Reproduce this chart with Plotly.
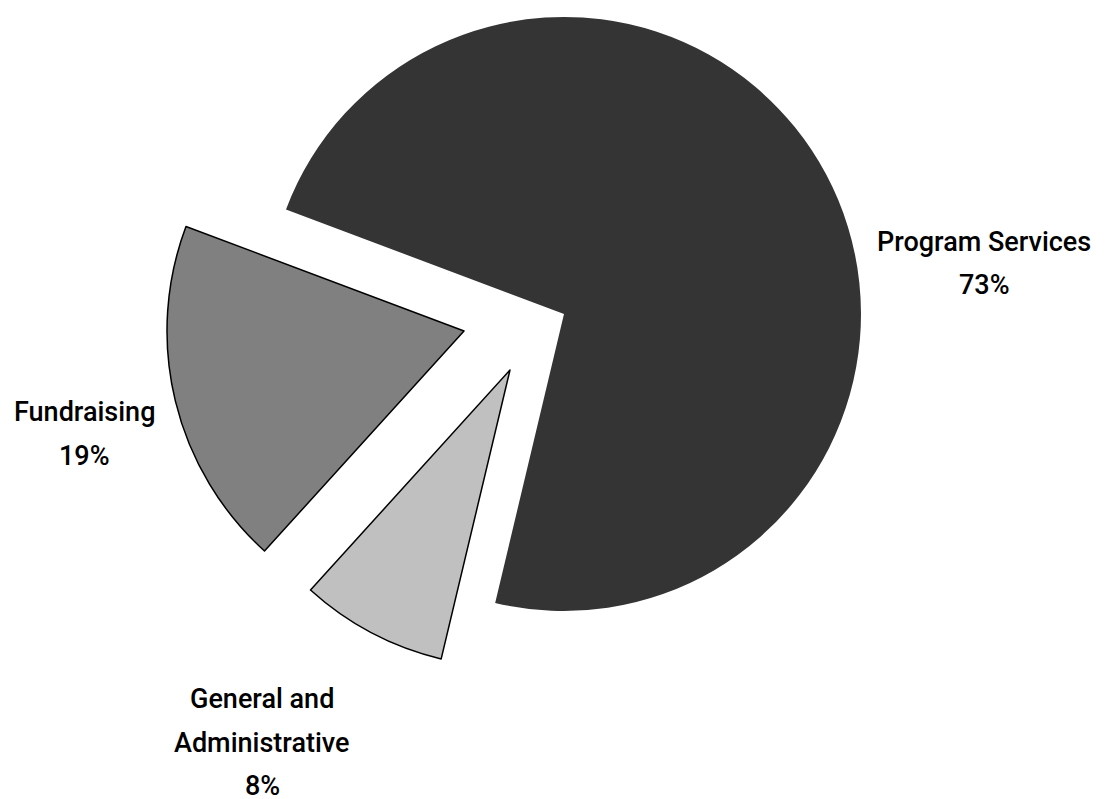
import plotly.graph_objects as go

# ---- data (clockwise order from the top-left edge) ----
labels = ["Program Services", "General and Administrative", "Fundraising"]
label_lines = [["Program Services"], ["General and", "Administrative"], ["Fundraising"]]
values = [73, 8, 19]

# ---- styles / layout ----
colors = ["#343434", "#c0c0c0", "#808080"]
outline = [0, 1.5, 1.5]
W, H = 1102, 791
PAGE = 8                      # page body margin in px
R = 297                       # pie radius in px
rotation = -69.4              # start of first slice relative to 12 o'clock
# apex (centre) of each exploded slice, screen px from top-left
centres = [(564, 314), (510, 370), (464, 331)]
# label anchor (centre of first line), screen px from top-left
label_pos = [(984, 242), (262, 699), (84, 412)]
line_gap = 43.5

fig = go.Figure()
total = sum(values)
for k, (cx, cy) in enumerate(centres):
    cx, cy = cx - PAGE, cy - PAGE
    cols = [colors[i] if i == k else "rgba(0,0,0,0)" for i in range(len(values))]
    lw = [outline[i] if i == k else 0 for i in range(len(values))]
    fig.add_trace(go.Pie(
        labels=labels, values=values, sort=False, direction="clockwise",
        rotation=rotation, textinfo="none", hoverinfo="label+percent",
        marker=dict(colors=cols, line=dict(color="black", width=lw)),
        domain=dict(x=[(cx - R) / W, (cx + R) / W],
                    y=[1 - (cy + R) / H, 1 - (cy - R) / H]),
        showlegend=False,
    ))

annotations = []
for i, lines in enumerate(label_lines):
    pct = f"{round(100 * values[i] / total)}%"
    x0, y0 = label_pos[i]
    x0, y0 = x0 - PAGE, y0 - PAGE
    for j, t in enumerate(lines + [pct]):
        annotations.append(dict(
            x=x0 / W, y=1 - (y0 + j * line_gap) / H, xref="paper", yref="paper",
            text=t, showarrow=False, xanchor="center", yanchor="middle",
            font=dict(family="Roboto, Liberation Sans, sans-serif", size=27,
                      weight=500, color="black"),
        ))

fig.update_layout(
    width=W, height=H, margin=dict(l=0, r=0, t=0, b=0),
    paper_bgcolor="white", plot_bgcolor="white",
    annotations=annotations, showlegend=False,
)
fig.write_html("out.html")
